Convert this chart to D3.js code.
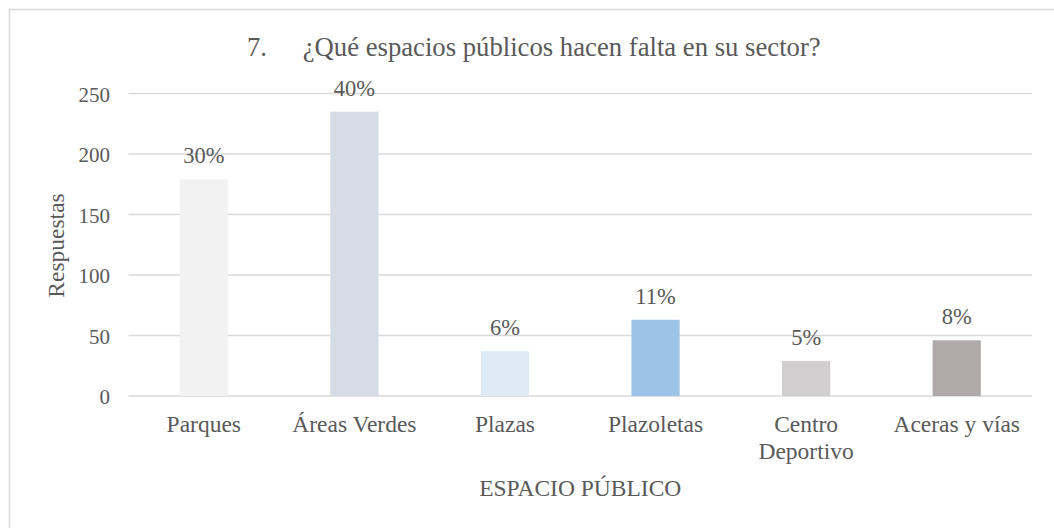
<!DOCTYPE html>
<html>
<head>
<meta charset="utf-8">
<script src="https://cdn.jsdelivr.net/npm/d3@7"></script>
<style>
  html, body { margin: 0; padding: 0; background: #ffffff; }
  svg { display: block; }
  text { fill: #595959; }
</style>
</head>
<body>
<svg id="chart" width="1054" height="528" font-family="'Liberation Serif', 'DejaVu Serif', 'Noto Serif', Tinos, 'Times New Roman', Times, serif, 'Liberation Sans'"></svg>
<script>
// Survey question 7: which public spaces are missing in the sector
const categories = ["Parques", "Áreas Verdes", "Plazas", "Plazoletas", "Centro Deportivo", "Aceras y vías"];
const responses = [179, 235, 37, 63, 29, 46];
const barColors = ["#f2f2f2", "#d6dce5", "#deebf7", "#9dc3e6", "#d0cece", "#aeaaaa"];
const yTicks = [0, 50, 100, 150, 200, 250];
// category labels broken into lines the way they wrap under the bars
const categoryLines = [["Parques"], ["Áreas Verdes"], ["Plazas"], ["Plazoletas"], ["Centro", "Deportivo"], ["Aceras y vías"]];

const titleNumber = "7.";
const titleText = "¿Qué espacios públicos hacen falta en su sector?";
const yTitle = "Respuestas";
const xTitle = "ESPACIO PÚBLICO";

const svg = d3.select("#chart");
const W = 1054, H = 528;

// chart area frame (top and left edges visible)
svg.append("rect")
  .attr("x", 9.5).attr("y", 9.5)
  .attr("width", W + 10).attr("height", H + 10)
  .attr("fill", "#ffffff")
  .attr("stroke", "#d9d9d9")
  .attr("stroke-width", 1.5);

const plot = { left: 128.5, right: 1032, top: 93.5, bottom: 396 };

const x = d3.scaleBand()
  .domain(categories)
  .range([plot.left, plot.right])
  .paddingInner(0.68)
  .paddingOuter(0.34);

const y = d3.scaleLinear()
  .domain([0, 250])
  .range([plot.bottom, plot.top]);

// horizontal gridlines
svg.append("g")
  .selectAll("line")
  .data(yTicks)
  .join("line")
  .attr("x1", plot.left).attr("x2", plot.right)
  .attr("y1", d => y(d)).attr("y2", d => y(d))
  .attr("stroke", "#d9d9d9")
  .attr("stroke-width", 1.3);

// y tick labels
svg.append("g")
  .selectAll("text")
  .data(yTicks)
  .join("text")
  .attr("x", 110)
  .attr("y", d => y(d) + 8.2)
  .attr("text-anchor", "end")
  .style("font-size", "21px")
  .text(d => d);

// bars
const data = categories.map((c, i) => ({ cat: c, value: responses[i], color: barColors[i], lines: categoryLines[i] }));
const total = d3.sum(responses);
const pct = d3.format(".0%");

svg.append("g")
  .selectAll("rect")
  .data(data)
  .join("rect")
  .attr("x", d => x(d.cat))
  .attr("y", d => y(d.value))
  .attr("width", x.bandwidth())
  .attr("height", d => y(0) - y(d.value))
  .attr("fill", d => d.color);

// share of total above each bar
svg.append("g")
  .selectAll("text")
  .data(data)
  .join("text")
  .attr("x", d => x(d.cat) + x.bandwidth() / 2)
  .attr("y", d => y(d.value) - 16)
  .attr("text-anchor", "middle")
  .style("font-size", "22.5px")
  .text(d => pct(d.value / total));

// category labels
const catG = svg.append("g")
  .selectAll("text")
  .data(data)
  .join("text")
  .attr("text-anchor", "middle")
  .style("font-size", "23.5px");
catG.selectAll("tspan")
  .data(d => d.lines.map(l => ({ l, cx: x(d.cat) + x.bandwidth() / 2 })))
  .join("tspan")
  .attr("x", d => d.cx)
  .attr("y", (d, i) => 432 + i * 27)
  .text(d => d.l);

// axis titles
svg.append("text")
  .attr("transform", "translate(63.5,245.5) rotate(-90)")
  .attr("text-anchor", "middle")
  .style("font-size", "23.5px")
  .text(yTitle);

svg.append("text")
  .attr("x", (plot.left + plot.right) / 2)
  .attr("y", 496)
  .attr("text-anchor", "middle")
  .style("font-size", "23.5px")
  .text(xTitle);

// chart title: list number followed by the question
const title = svg.append("text")
  .attr("y", 55.5)
  .style("font-size", "26.7px");
title.append("tspan").attr("x", 247).text(titleNumber);
title.append("tspan").attr("x", 302.7).text(titleText);
</script>
</body>
</html>
